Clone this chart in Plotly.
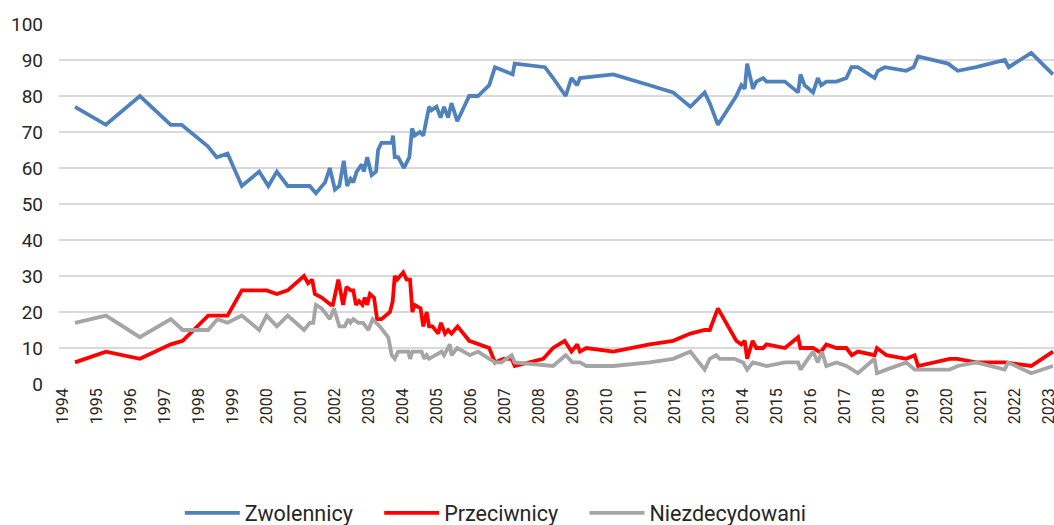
import plotly.graph_objects as go

# Zwolennicy (supporters)
years_zw = [1994.35, 1995.26, 1996.26, 1997.17, 1997.49, 1998.26, 1998.52, 1998.84, 1999.26, 1999.77,
            2000.04, 2000.29, 2000.61, 2001.26, 2001.44, 2001.71, 2001.85, 2002.00, 2002.13, 2002.26,
            2002.36, 2002.46, 2002.54, 2002.64, 2002.79, 2002.85, 2002.95, 2003.08, 2003.21, 2003.27,
            2003.37, 2003.67, 2003.71, 2003.76, 2003.86, 2004.03, 2004.19, 2004.27, 2004.35, 2004.50,
            2004.60, 2004.77, 2004.84, 2004.99, 2005.11, 2005.21, 2005.33, 2005.43, 2005.60, 2005.95,
            2006.21, 2006.54, 2006.71, 2007.23, 2007.29, 2008.18, 2008.42, 2008.79, 2008.96, 2009.13,
            2009.21, 2010.19, 2011.26, 2011.95, 2012.46, 2012.88, 2013.03, 2013.27, 2013.81, 2013.96,
            2014.06, 2014.13, 2014.30, 2014.40, 2014.60, 2014.70, 2015.24, 2015.63, 2015.70, 2015.82,
            2016.07, 2016.21, 2016.31, 2016.46, 2016.76, 2017.05, 2017.20, 2017.39, 2017.88, 2017.98,
            2018.18, 2018.81, 2019.03, 2019.16, 2020.04, 2020.33, 2020.87, 2021.71, 2021.83, 2022.49,
            2023.13]
zwolennicy = [77, 72, 80, 72, 72, 66, 63, 64, 55, 59,
              55, 59, 55, 55, 53, 56, 60, 54, 55, 62,
              55, 57, 56, 59, 61, 59, 63, 58, 59, 65,
              67, 67, 69, 63, 63, 60, 63, 71, 69, 70,
              69, 77, 76, 77, 74, 77, 74, 78, 73, 80,
              80, 83, 88, 86, 89, 88, 85, 80, 85, 83,
              85, 86, 83, 81, 77, 81, 78, 72, 80, 83,
              82, 89, 82, 84, 85, 84, 84, 81, 86, 83,
              81, 85, 83, 84, 84, 85, 88, 88, 85, 87,
              88, 87, 88, 91, 89, 87, 88, 90, 88, 92,
              86]

# Przeciwnicy (opponents)
years_pr = [1994.35, 1995.26, 1996.26, 1997.17, 1997.52, 1998.27, 1998.84, 1999.26, 1999.99, 2000.29,
            2000.61, 2001.09, 2001.21, 2001.33, 2001.41, 2001.61, 2001.88, 2001.94, 2002.10, 2002.24,
            2002.34, 2002.46, 2002.54, 2002.62, 2002.71, 2002.81, 2002.88, 2002.95, 2003.03, 2003.15,
            2003.24, 2003.37, 2003.62, 2003.70, 2003.76, 2003.83, 2004.01, 2004.11, 2004.21, 2004.28,
            2004.34, 2004.52, 2004.60, 2004.70, 2004.77, 2004.87, 2005.04, 2005.12, 2005.24, 2005.33,
            2005.43, 2005.61, 2005.95, 2006.54, 2006.71, 2006.95, 2007.20, 2007.29, 2008.13, 2008.42,
            2008.76, 2008.96, 2009.13, 2009.21, 2009.40, 2010.19, 2011.26, 2011.95, 2012.46, 2012.88,
            2013.03, 2013.27, 2013.81, 2013.96, 2014.06, 2014.13, 2014.29, 2014.40, 2014.60, 2014.70,
            2015.24, 2015.63, 2015.70, 2016.07, 2016.24, 2016.31, 2016.46, 2016.76, 2017.05, 2017.21,
            2017.39, 2017.88, 2017.95, 2018.23, 2018.81, 2019.06, 2019.16, 2020.09, 2020.32, 2020.87,
            2021.71, 2022.49, 2023.13]
przeciwnicy = [6, 9, 7, 11, 12, 19, 19, 26, 26, 25,
               26, 30, 28, 29, 25, 24, 22, 22, 29, 22,
               27, 26, 26, 22, 23, 22, 24, 22, 25, 24,
               18, 18, 20, 23, 30, 29, 31, 29, 29, 20,
               22, 21, 16, 20, 16, 16, 14, 17, 14, 15,
               14, 16, 12, 10, 6, 7, 7, 5, 7, 10,
               12, 9, 11, 9, 10, 9, 11, 12, 14, 15,
               15, 21, 12, 11, 12, 7, 12, 10, 10, 11,
               10, 13, 10, 10, 9, 9, 11, 10, 10, 8,
               9, 8, 10, 8, 7, 8, 5, 7, 7, 6,
               6, 5, 9]

# Niezdecydowani (undecided)
years_nz = [1994.35, 1995.26, 1996.26, 1997.17, 1997.52, 1998.27, 1998.54, 1998.84, 1999.26, 1999.77,
            1999.99, 2000.29, 2000.61, 2001.09, 2001.26, 2001.36, 2001.44, 2001.61, 2001.85, 2001.97,
            2002.13, 2002.29, 2002.39, 2002.46, 2002.54, 2002.69, 2002.83, 2002.98, 2003.11, 2003.32,
            2003.57, 2003.67, 2003.76, 2003.86, 2004.16, 2004.21, 2004.28, 2004.55, 2004.63, 2004.70,
            2004.77, 2004.94, 2005.14, 2005.21, 2005.38, 2005.43, 2005.60, 2005.97, 2006.21, 2006.71,
            2006.90, 2007.20, 2007.29, 2008.42, 2008.79, 2008.99, 2009.21, 2009.40, 2010.19, 2011.26,
            2011.95, 2012.46, 2012.88, 2013.03, 2013.22, 2013.32, 2013.76, 2014.01, 2014.13, 2014.30,
            2014.70, 2015.24, 2015.63, 2015.70, 2016.07, 2016.21, 2016.33, 2016.46, 2016.76, 2017.05,
            2017.39, 2017.88, 2017.95, 2018.23, 2018.81, 2019.06, 2020.09, 2020.33, 2020.87, 2021.71,
            2021.81, 2022.49, 2023.13]
niezdecydowani = [17, 19, 13, 18, 15, 15, 18, 17, 19, 15,
                  19, 16, 19, 15, 17, 17, 22, 21, 18, 21,
                  16, 16, 18, 17, 18, 17, 17, 15, 18, 16,
                  13, 8, 7, 9, 9, 7, 9, 9, 7, 8,
                  7, 8, 9, 8, 11, 8, 10, 8, 9, 6,
                  6, 8, 6, 5, 8, 6, 6, 5, 5, 6,
                  7, 9, 4, 7, 8, 7, 7, 6, 4, 6,
                  5, 6, 6, 4, 9, 6, 9, 5, 6, 5,
                  3, 7, 3, 4, 6, 4, 4, 5, 6, 4,
                  6, 3, 5]

tick_years = list(range(1994, 2024))
y_ticks = list(range(0, 101, 10))

FONT = "Roboto"
TXT = "#262626"
PAD = "\u00a0"

fig = go.Figure()
fig.add_trace(go.Scatter(x=years_zw, y=zwolennicy, mode="lines", name="Zwolennicy" + PAD * 4,
                         line=dict(color="#4F81BD", width=3.8)))
fig.add_trace(go.Scatter(x=years_pr, y=przeciwnicy, mode="lines", name="Przeciwnicy" + PAD * 4,
                         line=dict(color="#FF0000", width=3.8)))
fig.add_trace(go.Scatter(x=years_nz, y=niezdecydowani, mode="lines", name="Niezdecydowani",
                         line=dict(color="#A5A5A5", width=3.8)))

fig.update_layout(
    width=1054, height=525,
    margin=dict(l=59, r=0, t=24, b=141, autoexpand=False),
    paper_bgcolor="white", plot_bgcolor="white",
    font=dict(family=FONT, color=TXT),
    showlegend=True,
    legend=dict(orientation="h", x=0.439, xanchor="center", y=-0.358, yanchor="middle",
                font=dict(family=FONT, size=21.5, color=TXT), itemwidth=55,
                bgcolor="rgba(0,0,0,0)"),
    xaxis=dict(range=[1993.88, 2023.16], tickmode="array", tickvals=tick_years,
               ticktext=[str(y) for y in tick_years], tickangle=-90,
               tickfont=dict(family=FONT, size=16, color=TXT), automargin=False,
               ticklabeloverflow="allow",
               showgrid=False, zeroline=False, showline=False, ticks=""),
    yaxis=dict(range=[0, 100], tickmode="array", tickvals=y_ticks,
               tickfont=dict(family=FONT, size=19, color=TXT), automargin=False,
               showgrid=True, gridcolor="#D9D9D9", gridwidth=1.5,
               zeroline=False, showline=False, ticks="", ticklabelstandoff=15),
)

fig.write_html(
    "out.html",
    config={"displayModeBar": False},
    post_script="document.body.style.margin='0';document.body.style.padding='0';"
                "document.body.style.overflow='hidden';",
)
